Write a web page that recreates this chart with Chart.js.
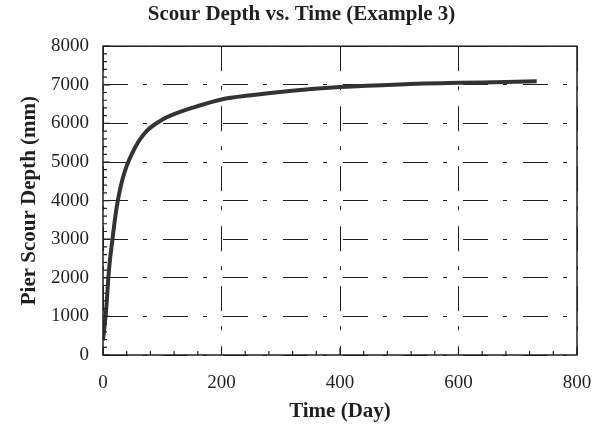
<!DOCTYPE html>
<html>
<head>
<meta charset="utf-8">
<script src="https://cdn.jsdelivr.net/npm/chart.js@4/dist/chart.umd.min.js"></script>
<style>
  html, body { margin: 0; padding: 0; background: #fff; }
</style>
</head>
<body>
<canvas id="scour" width="603" height="434"></canvas>
<script>
// time (day) and scour depth (mm)
const tiempo = [0, 3, 6, 9, 12, 16, 20, 25, 32, 40, 50, 60, 70, 80, 91, 105, 120, 150, 200, 250, 315, 400, 500, 600, 680, 732];
const profundidad = [390, 800, 1300, 2000, 2500, 3000, 3500, 4000, 4500, 4900, 5250, 5530, 5740, 5890, 6010, 6140, 6240, 6400, 6620, 6730, 6840, 6940, 7010, 7050, 7070, 7090];

const xTicks = [0, 200, 400, 600, 800];
const yTicks = [0, 1000, 2000, 3000, 4000, 5000, 6000, 7000, 8000];
const xMenor = 40;
const yMenor = 200;

const puntos = tiempo.map((t, i) => ({ x: t, y: profundidad[i] }));

const serif = "'Liberation Serif', 'Times New Roman', serif";
const tinta = '#231f20';

// frame + inward tick marks (Excel style)
const marco = {
  id: 'marco',
  afterDatasetsDraw(chart) {
    const ctx = chart.ctx;
    const a = chart.chartArea;
    const sx = chart.scales.x, sy = chart.scales.y;
    ctx.save();
    ctx.strokeStyle = tinta;
    ctx.lineWidth = 1.5;
    ctx.setLineDash([]);
    ctx.strokeRect(a.left, a.top, a.right - a.left, a.bottom - a.top);
    ctx.lineWidth = 1.2;
    ctx.beginPath();
    for (let v = sx.min; v <= sx.max; v += xMenor) {
      const px = sx.getPixelForValue(v);
      const largo = (v % 200 === 0) ? 7 : 4;
      ctx.moveTo(px, a.bottom);
      ctx.lineTo(px, a.bottom - largo);
    }
    for (let v = sy.min; v <= sy.max; v += yMenor) {
      const py = sy.getPixelForValue(v);
      const largo = (v % 1000 === 0) ? 7 : 4;
      ctx.moveTo(a.left, py);
      ctx.lineTo(a.left + largo, py);
    }
    ctx.stroke();
    ctx.restore();
  }
};

new Chart(document.getElementById('scour'), {
  type: 'scatter',
  data: {
    datasets: [{
      data: puntos,
      showLine: true,
      borderColor: '#333333',
      borderWidth: 4,
      pointRadius: 0,
      cubicInterpolationMode: 'monotone',
      fill: false
    }]
  },
  options: {
    responsive: false,
    animation: false,
    layout: { padding: 0 },
    plugins: {
      legend: { display: false },
      tooltip: { enabled: false },
      title: {
        display: true,
        text: 'Scour Depth vs. Time (Example 3)',
        color: tinta,
        font: { family: serif, size: 21, weight: 'bold' },
        padding: { top: 2, bottom: 19 }
      }
    },
    scales: {
      x: {
        type: 'linear',
        min: xTicks[0],
        max: xTicks[xTicks.length - 1],
        afterBuildTicks: s => { s.ticks = xTicks.map(v => ({ value: v })); },
        afterFit: s => { s.height = 79; s.paddingLeft = 0; s.paddingRight = 26; },
        grid: { color: tinta, lineWidth: 1, drawTicks: false },
        border: { display: false, dash: [25, 15, 4, 16] },
        ticks: { color: tinta, padding: 17, autoSkip: false, maxRotation: 0, callback: v => String(v), font: { family: serif, size: 19 } },
        title: {
          display: true,
          text: 'Time (Day)',
          color: tinta,
          font: { family: serif, size: 21, weight: 'bold' },
          padding: { top: 0, bottom: 10 }
        }
      },
      y: {
        type: 'linear',
        min: yTicks[0],
        max: yTicks[yTicks.length - 1],
        afterBuildTicks: s => { s.ticks = yTicks.map(v => ({ value: v })); },
        afterFit: s => { s.width = 103; },
        grid: { color: tinta, lineWidth: 1, drawTicks: false },
        border: { display: false, dash: [25, 15, 4, 16] },
        ticks: { color: tinta, padding: 14, autoSkip: false, callback: v => String(v), font: { family: serif, size: 19 } },
        title: {
          display: true,
          text: 'Pier Scour Depth (mm)',
          color: tinta,
          font: { family: serif, size: 21, weight: 'bold' },
          padding: { top: 17, bottom: 0 }
        }
      }
    }
  },
  plugins: [marco]
});
</script>
</body>
</html>
